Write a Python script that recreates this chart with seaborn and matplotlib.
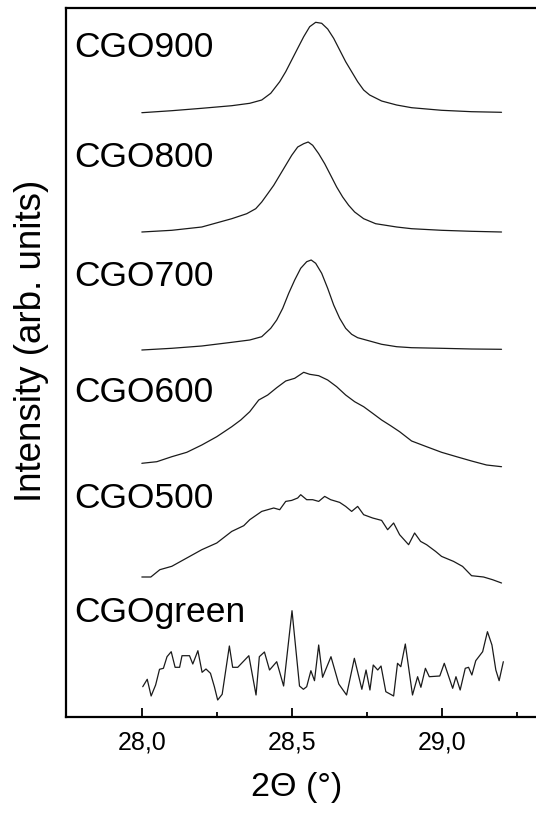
import numpy as np
import matplotlib
matplotlib.use('Agg')
import matplotlib.pyplot as plt
import seaborn as sns
from matplotlib.ticker import FixedLocator, FuncFormatter

# --- DATA (intensity in arb. units) ---
theta_900 = [28.00, 28.10, 28.20, 28.30, 28.36, 28.40, 28.43, 28.46, 28.48, 28.50,
             28.52, 28.54, 28.56, 28.58, 28.60, 28.62, 28.64, 28.66, 28.68, 28.70,
             28.72, 28.74, 28.76, 28.80, 28.85, 28.90, 29.00, 29.10, 29.20]
int_900 = [0.3, 2.3, 4.7, 7.3, 9.7, 13, 19.7, 31.3, 41.3, 53,
           64.7, 76.3, 86.3, 90.7, 89.7, 84, 74.7, 63, 51.3, 41.3,
           31.3, 23, 18, 12, 8, 5.3, 2.7, 1.3, 0.7]

theta_800 = [28.00, 28.10, 28.20, 28.30, 28.35, 28.38, 28.40, 28.42, 28.44, 28.46,
             28.48, 28.50, 28.52, 28.54, 28.555, 28.57, 28.59, 28.61, 28.63, 28.65,
             28.67, 28.69, 28.71, 28.74, 28.78, 28.85, 28.90, 29.00, 29.10, 29.20]
int_800 = [0, 1.7, 5, 13.3, 18.3, 23.3, 30, 38.3, 46.7, 56.7,
           66.7, 76.7, 85, 88.3, 90, 86.7, 78.3, 68.3, 56.7, 45,
           35, 26.7, 20, 13.3, 8.3, 5, 3.3, 1.7, 0.7, 0]

theta_700 = [28.00, 28.10, 28.20, 28.30, 28.36, 28.40, 28.43, 28.45, 28.47, 28.49,
             28.51, 28.53, 28.55, 28.565, 28.58, 28.60, 28.62, 28.64, 28.66, 28.68,
             28.70, 28.72, 28.76, 28.80, 28.85, 28.90, 29.00, 29.10, 29.20]
int_700 = [0, 1.7, 4, 7.7, 10, 13.3, 21.7, 30, 41.7, 56.7,
           70, 81.7, 88.3, 90, 86.7, 76.7, 61.7, 45, 31.7, 21.7,
           15.7, 12.3, 9, 5.7, 3.3, 2.3, 1.7, 1, 0.7]

theta_600 = [28.00, 28.05, 28.10, 28.15, 28.20, 28.25, 28.30, 28.33, 28.36, 28.39,
             28.42, 28.45, 28.48, 28.51, 28.54, 28.56, 28.59, 28.62, 28.65, 28.68,
             28.71, 28.74, 28.77, 28.80, 28.83, 28.86, 28.90, 28.95, 29.00, 29.05,
             29.10, 29.15, 29.20]
int_600 = [3.7, 5.3, 10.3, 14.7, 22, 30.3, 40.3, 47, 55.3, 67,
           72, 79.3, 86, 88.7, 94.7, 92.7, 91.3, 87, 80.3, 72,
           65.3, 60.3, 53.7, 47, 41.3, 35.3, 26, 20.3, 14.7, 10.3,
           6, 2, 0.3]

theta_500 = [28.00, 28.03, 28.06, 28.10, 28.15, 28.20, 28.25, 28.30, 28.34, 28.36,
             28.40, 28.44, 28.46, 28.48, 28.50, 28.52, 28.53, 28.55, 28.57, 28.59,
             28.61, 28.63, 28.66, 28.68, 28.70, 28.72, 28.74, 28.77, 28.80, 28.82,
             28.84, 28.86, 28.89, 28.91, 28.93, 28.95, 28.98, 29.00, 29.04, 29.07,
             29.10, 29.14, 29.17, 29.20]
int_500 = [6, 6, 13.3, 16.7, 25, 33.3, 40, 51.6, 57.3, 63.3,
           71.6, 75, 73.3, 81.6, 82.6, 85, 88.3, 83.3, 83.3, 81.6,
           86.6, 83.3, 80.6, 76.6, 71.6, 76.6, 68.3, 65, 62.6, 53.3,
           60, 48.3, 38.3, 50, 41.6, 38.3, 31.6, 26.6, 21.6, 16.6,
           7.3, 6, 3.3, 0]

theta_green = [28.003, 28.018, 28.031, 28.046, 28.059, 28.072, 28.084, 28.098, 28.111, 28.126,
               28.134, 28.159, 28.170, 28.187, 28.201, 28.214, 28.229, 28.242, 28.253, 28.268,
               28.292, 28.303, 28.320, 28.357, 28.381, 28.392, 28.409, 28.426, 28.450, 28.473,
               28.501, 28.526, 28.539, 28.550, 28.564, 28.576, 28.590, 28.603, 28.631, 28.657,
               28.683, 28.709, 28.734, 28.748, 28.761, 28.772, 28.787, 28.798, 28.814, 28.840,
               28.853, 28.864, 28.879, 28.903, 28.920, 28.931, 28.946, 28.959, 28.994, 29.009,
               29.037, 29.048, 29.062, 29.079, 29.090, 29.101, 29.114, 29.137, 29.153, 29.168,
               29.181, 29.192, 29.206]
int_green = [13.3, 20.7, 4, 15, 30.7, 31.7, 43.3, 48.3, 32.7, 32.7,
             44.3, 44.3, 36, 49.3, 27.7, 31, 26.7, 13.3, 0, 5.7,
             54, 32.7, 32.7, 44.3, 5, 43.3, 48, 30, 38.3, 14,
             89.3, 14, 10.7, 13.3, 29.3, 19.3, 55, 22.7, 43.3, 16,
             5, 41.7, 10.7, 30, 10, 35, 30, 34, 8.3, 4,
             36.7, 33.3, 56, 5, 23.3, 12.7, 31.7, 23.3, 24, 36.7,
             11.7, 23.3, 10, 31.7, 32.7, 25, 39.3, 48.3, 68.3, 55,
             30, 19.3, 38.3]

samples = ['CGO900', 'CGO800', 'CGO700', 'CGO600', 'CGO500', 'CGOgreen']
thetas = [theta_900, theta_800, theta_700, theta_600, theta_500, theta_green]
intensities = [int_900, int_800, int_700, int_600, int_500, int_green]
offsets = [604, 485, 367, 250, 134, 17]

# label anchors (baseline height, same units as the stacked curves)
label_y = [660, 550, 431, 315, 209, 95]

sns.set_style('ticks')
plt.rcParams['font.family'] = ['Liberation Sans', 'DejaVu Sans']

fig = plt.figure(figsize=(5.36, 8.13), dpi=100)
ax = fig.add_axes([66 / 536, 96 / 813, 1 - 66 / 536, 709 / 813])

for name, th, inten, off in zip(samples, thetas, intensities, offsets):
    sns.lineplot(x=np.array(th), y=np.array(inten) + off, ax=ax, color='#1a1a1a',
                 linewidth=0.9, estimator=None, sort=False)

for name, ly in zip(samples, label_y):
    ax.text(27.775, ly, name, fontsize=25.5, ha='left', va='baseline', color='black')

ax.set_xlim(27.747, 29.315)
ax.set_ylim(0, 709)
ax.set_yticks([])

ax.xaxis.set_major_locator(FixedLocator([28.0, 28.5, 29.0]))
ax.xaxis.set_minor_locator(FixedLocator([28.25, 28.75, 29.25]))
ax.xaxis.set_major_formatter(FuncFormatter(lambda v, p: f'{v:.1f}'.replace('.', ',')))
ax.tick_params(axis='x', which='major', direction='in', length=6.5, width=1.3,
               labelsize=18, pad=10, colors='black')
ax.tick_params(axis='x', which='minor', direction='in', length=3.5, width=1.3, colors='black')

for side in ['left', 'bottom', 'top']:
    ax.spines[side].set_linewidth(1.6)
    ax.spines[side].set_color('black')
ax.spines['right'].set_visible(False)

ax.set_xlabel('2Θ (°)', fontsize=24.5, color='black')
ax.xaxis.set_label_coords(0.491, -0.078)
ax.set_ylabel('Intensity (arb. units)', fontsize=26.5, color='black')
ax.yaxis.set_label_coords(-0.036, 0.53)

fig.savefig('out.png', dpi=100)
